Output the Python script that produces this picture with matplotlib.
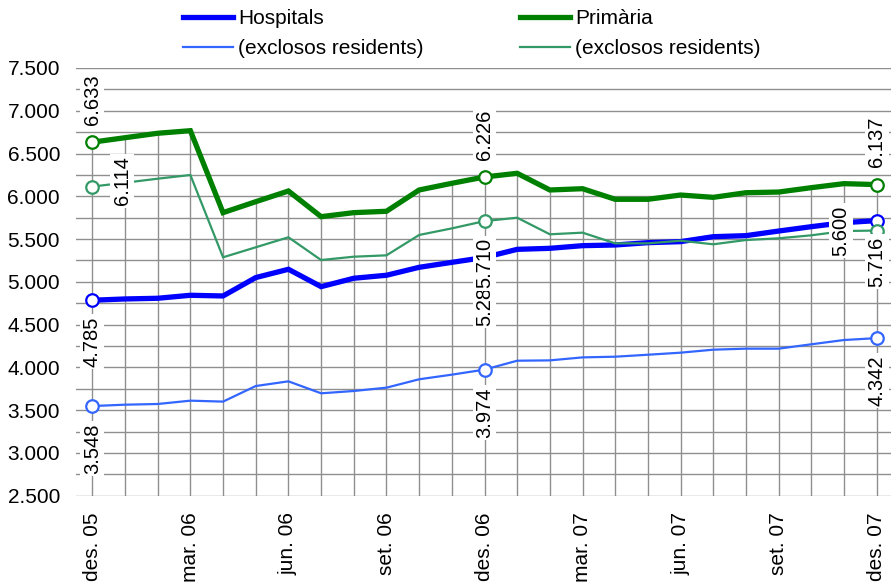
import matplotlib
matplotlib.use("Agg")
import matplotlib.pyplot as plt
import numpy as np
from matplotlib.ticker import FuncFormatter, MultipleLocator

plt.rcParams['font.family'] = ['Liberation Sans', 'DejaVu Sans']

# ---- data ----
n_months = 25
tick_positions = [0, 3, 6, 9, 12, 15, 18, 21, 24]
tick_labels = ["des. 05", "mar. 06", "jun. 06", "set. 06", "des. 06",
               "mar. 07", "jun. 07", "set. 07", "des. 07"]

hospitals = [4785, 4800, 4808, 4843, 4835, 5050, 5147, 4944, 5042, 5077, 5170, 5228,
             5285, 5380, 5392, 5423, 5431, 5458, 5470, 5528, 5540, 5594, 5645, 5692, 5716]
hospitals_excl = [3548, 3564, 3572, 3611, 3600, 3782, 3837, 3697, 3724, 3763, 3861, 3915,
                  3974, 4078, 4082, 4117, 4125, 4148, 4172, 4207, 4219, 4219, 4270, 4320, 4342]
primaria = [6633, 6685, 6737, 6767, 5809, 5937, 6062, 5762, 5809, 5825, 6074, 6152,
            6226, 6269, 6074, 6089, 5965, 5965, 6015, 5988, 6042, 6050, 6101, 6148, 6137]
primaria_excl = [6114, 6159, 6206, 6249, 5287, 5404, 5521, 5255, 5294, 5310, 5548, 5625,
                 5710, 5750, 5556, 5575, 5450, 5450, 5481, 5439, 5489, 5509, 5544, 5594, 5600]

series_names = ["Hospitals", "(exclosos residents)", "Primària", "(exclosos residents)"]
labelled_idx = [0, 12, 24]

# ---- style ----
W, H, DPI = 891, 584, 100
FS = 15
colors = ["#0000ff", "#3366ff", "#008000", "#339966"]
widths = [3.8, 1.6, 3.8, 1.6]

def fmt(v, pos=None):
    return f"{int(round(v)):,}".replace(",", ".")

fig = plt.figure(figsize=(W / DPI, H / DPI), dpi=DPI)
ax = fig.add_axes([76 / W, 1 - 495.7 / H, (893 - 76) / W, (495.7 - 68) / H])

x = np.arange(n_months)
all_series = [hospitals, hospitals_excl, primaria, primaria_excl]

ax.set_xlim(-0.5, n_months - 0.5)
ax.set_ylim(2500, 7500)

# grid lines (horizontal, every 250)
ax.yaxis.set_major_locator(MultipleLocator(500))
ax.yaxis.set_minor_locator(MultipleLocator(250))
ax.grid(axis='y', which='both', color='#8f8f8f', lw=1.0, zorder=0)
ax.set_axisbelow(True)

# drop lines from the top series down to the axis
top = np.max(np.array(all_series), axis=0)
ax.vlines(x, 2500, top, color='#8f8f8f', lw=1.0, zorder=1)

lines = []
for s, c, w, name in zip(all_series, colors, widths, series_names):
    ln, = ax.plot(x, s, color=c, lw=w, label=name, zorder=3, solid_joinstyle='miter')
    lines.append(ln)
    xs = [x[i] for i in labelled_idx]
    ys = [s[i] for i in labelled_idx]
    ax.plot(xs, ys, ls='none', marker='o', ms=9, mfc='white', mec=c, mew=1.6, zorder=4)

# data label placements (offsets in points): (series, index) -> (dx, dy)
offsets = {
    (2, 0): (0, 30.7), (3, 0): (21.6, 4.1), (0, 0): (0, -29.9), (1, 0): (0, -30.6),
    (2, 12): (0, 30.5), (0, 12): (0, -31.2), (3, 12): (0, -30.2), (1, 12): (0, -31.1),
    (2, 24): (0, 30.8), (3, 24): (-25.7, 0), (0, 24): (0, -29.4), (1, 24): (0, -30.7),
}
for (si, i), (dx, dy) in offsets.items():
    v = all_series[si][i]
    ax.annotate(fmt(v), (x[i], v), xytext=(dx, dy), textcoords='offset points',
                rotation=90, ha='center', va='center', fontsize=14.5, color='black',
                zorder=6, annotation_clip=False,
                bbox=dict(boxstyle='square,pad=0.12', fc='white', ec='none'))

for sp in ax.spines.values():
    sp.set_visible(False)

ax.yaxis.set_major_formatter(FuncFormatter(fmt))
ax.tick_params(axis='y', which='both', length=0, pad=11.5, labelsize=FS)
ax.set_xticks(tick_positions)
ax.set_xticklabels(tick_labels, rotation=90, fontsize=FS, va='top', ha='center')
ax.tick_params(axis='x', length=0, pad=12)

fig.legend(handles=lines, labels=series_names, ncol=2, loc='upper left',
           bbox_to_anchor=(183 / W, 1 - 9 / H), frameon=False, fontsize=FS,
           handlelength=2.4, handletextpad=0.25, columnspacing=4.6,
           borderpad=0, borderaxespad=0, labelspacing=0.55)

fig.savefig("out.png", dpi=DPI)
